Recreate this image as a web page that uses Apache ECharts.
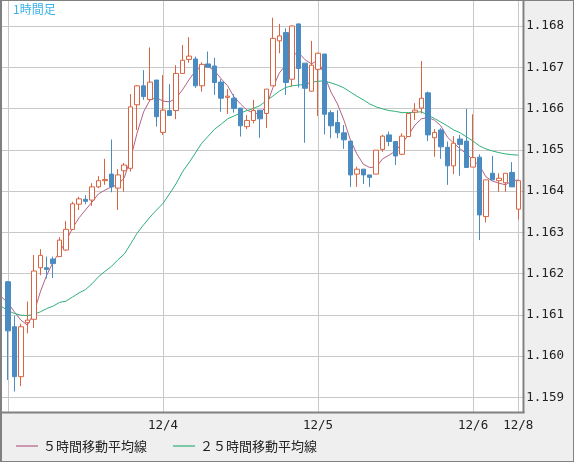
<!DOCTYPE html>
<html><head><meta charset="utf-8">
<script src="https://cdn.jsdelivr.net/npm/echarts@6/dist/echarts.min.js"></script>
<style>html,body{margin:0;padding:0;background:#efefef;overflow:hidden}#c{width:574px;height:462px}</style>
</head><body><div id="c"></div>
<script>
// hourly sessions: [day, first hour, last hour]
const sessions = [['12/2',23,23],['12/3',0,23],['12/4',0,23],['12/5',0,23],['12/6',0,6],['12/8',7,8]];
const gridTicks = ['12/3 0:00','12/4 0:00','12/5 0:00','12/6 0:00','12/8 7:00'];
const tickLabels = ['', '12/4', '12/5', '12/6', '12/8'];
const yTickLabels = ['1.159','1.160','1.161','1.162','1.163','1.164','1.165','1.166','1.167','1.168'];

const opens = [null,
1.16180,1.16071,1.15950,1.16081,1.16089,1.16214,1.16214,1.16235,1.16241,1.16257,
1.16307,1.16368,1.16380,1.16378,1.16410,1.16425,1.16441,1.16407,1.16449,1.16455,
1.16609,1.16655,1.16622,1.16669,1.16542,1.16595,1.16595,1.16685,1.16719,1.16720,
1.16655,1.16708,1.16703,1.16664,1.16627,1.16625,1.16601,1.16556,1.16571,1.16596,
1.16588,1.16655,1.16764,1.16784,1.16671,1.16805,1.16710,1.16642,1.16695,1.16732,
1.16590,1.16566,1.16541,1.16521,1.16441,1.16453,1.16439,1.16441,1.16501,1.16536,
1.16520,1.16489,1.16532,1.16591,1.16601,1.16638,1.16529,1.16548,1.16506,1.16461,
1.16526,1.16521,1.16458,1.16482,1.16338,1.16443,1.16425,1.16420,1.16445,1.16356, null];
const closes = [null,
1.16061,1.15950,1.16071,1.16087,1.16206,1.16244,1.16210,1.16224,1.16281,1.16307,
1.16369,1.16381,1.16375,1.16410,1.16425,1.16428,1.16410,1.16439,1.16463,1.16604,
1.16655,1.16629,1.16664,1.16580,1.16596,1.16583,1.16685,1.16717,1.16727,1.16655,
1.16707,1.16700,1.16663,1.16625,1.16630,1.16600,1.16558,1.16571,1.16595,1.16575,
1.16647,1.16770,1.16776,1.16663,1.16800,1.16697,1.16649,1.16705,1.16734,1.16586,
1.16558,1.16541,1.16524,1.16439,1.16453,1.16439,1.16433,1.16499,1.16533,1.16520,
1.16485,1.16533,1.16588,1.16596,1.16625,1.16536,1.16542,1.16507,1.16461,1.16516,
1.16513,1.16457,1.16481,1.16342,1.16427,1.16427,1.16431,1.16443,1.16410,1.16425, null];
const lows = [null,
1.15942,1.15914,1.15927,1.16055,1.16068,1.16196,1.16188,1.16189,1.16240,1.16255,
1.16305,1.16354,1.16368,1.16364,1.16407,1.16415,1.16397,1.16354,1.16398,1.16447,
1.16548,1.16621,1.16618,1.16556,1.16536,1.16583,1.16574,1.16685,1.16711,1.16650,
1.16641,1.16700,1.16633,1.16592,1.16587,1.16590,1.16532,1.16550,1.16564,1.16529,
1.16553,1.16655,1.16734,1.16633,1.16653,1.16651,1.16517,1.16641,1.16582,1.16537,
1.16528,1.16528,1.16502,1.16410,1.16410,1.16417,1.16410,1.16441,1.16495,1.16509,
1.16463,1.16487,1.16532,1.16572,1.16588,1.16521,1.16483,1.16478,1.16415,1.16441,
1.16437,1.16457,1.16458,1.16281,1.16324,1.16427,1.16398,1.16398,1.16410,1.16331, null];
const highs = [null,
1.16182,1.16097,1.16078,1.16132,1.16245,1.16259,1.16241,1.16241,1.16288,1.16327,
1.16374,1.16386,1.16390,1.16419,1.16436,1.16478,1.16525,1.16453,1.16468,1.16635,
1.16657,1.16693,1.16748,1.16669,1.16681,1.16659,1.16705,1.16754,1.16773,1.16726,
1.16712,1.16738,1.16723,1.16671,1.16647,1.16635,1.16601,1.16584,1.16621,1.16596,
1.16647,1.16820,1.16805,1.16794,1.16802,1.16806,1.16710,1.16764,1.16735,1.16732,
1.16596,1.16596,1.16560,1.16521,1.16459,1.16453,1.16439,1.16499,1.16536,1.16544,
1.16520,1.16540,1.16588,1.16613,1.16715,1.16641,1.16550,1.16552,1.16520,1.16533,
1.16536,1.16599,1.16586,1.16489,1.16427,1.16485,1.16443,1.16443,1.16470,1.16425, null];
const ma5 = [1.16143,
1.16129,1.16107,1.16087,1.16075,1.16104,1.16155,1.16196,1.16228,1.16252,1.16279,
1.16310,1.16335,1.16354,1.16373,1.16393,1.16402,1.16410,1.16415,1.16432,1.16480,
1.16541,1.16592,1.16621,1.16626,1.16618,1.16616,1.16625,1.16645,1.16669,1.16691,
1.16701,1.16702,1.16691,1.16672,1.16655,1.16628,1.16611,1.16596,1.16589,1.16587,
1.16606,1.16650,1.16686,1.16705,1.16730,1.16735,1.16718,1.16708,1.16718,1.16679,
1.16640,1.16611,1.16572,1.16524,1.16490,1.16465,1.16457,1.16458,1.16478,1.16487,
1.16497,1.16516,1.16536,1.16560,1.16575,1.16578,1.16572,1.16558,1.16531,1.16516,
1.16502,1.16490,1.16475,1.16461,1.16434,1.16424,1.16419,1.16415,1.16424,1.16427, null];
const ma25 = [1.16120,
1.16110,1.16103,1.16099,1.16098,1.16101,1.16107,1.16115,1.16121,1.16130,1.16133,
1.16143,1.16153,1.16161,1.16175,1.16192,1.16205,1.16217,1.16233,1.16247,1.16272,
1.16298,1.16318,1.16337,1.16354,1.16370,1.16393,1.16417,1.16446,1.16468,1.16492,
1.16516,1.16533,1.16550,1.16562,1.16575,1.16582,1.16589,1.16595,1.16600,1.16607,
1.16619,1.16630,1.16642,1.16651,1.16655,1.16657,1.16658,1.16664,1.16666,1.16667,
1.16662,1.16657,1.16650,1.16640,1.16630,1.16621,1.16611,1.16604,1.16599,1.16595,
1.16593,1.16590,1.16590,1.16591,1.16592,1.16584,1.16576,1.16567,1.16558,1.16548,
1.16541,1.16531,1.16521,1.16509,1.16502,1.16497,1.16493,1.16490,1.16488,1.16487, null];

const categories = [];
sessions.forEach(([d, h0, h1]) => { for (let h = h0; h <= h1; h++) categories.push(d + ' ' + h + ':00'); });
const labelOf = {};
gridTicks.forEach((t, k) => { labelOf[categories.indexOf(t)] = tickLabels[k]; });

const candles = opens.map((o, i) => o == null ? '-' : [o, closes[i], lows[i], highs[i]]);
const nz = v => v == null ? '-' : v;

const RED = '#d9643f', BLUE = '#4a8cc2', PINK = '#b4608a', GREEN = '#2eb078';
const GRIDC = '#c8c8c8', FRAME = '#808080';
const mono = 'DejaVu Sans Mono';

const chart = echarts.init(document.getElementById('c'), null, {renderer: 'canvas'});
chart.setOption({
  animation: false,
  backgroundColor: '#efefef',
  title: {text: '1時間足', left: 13, top: 3, padding: 0,
    textStyle: {color: '#3db2e8', fontSize: 12, fontWeight: 'normal', fontFamily: 'Noto Sans CJK JP'}},
  legend: {
    left: 16, top: 439.5, padding: 0, itemGap: 26, itemWidth: 22, itemHeight: 14,
    textStyle: {fontSize: 13, color: '#222', fontFamily: 'Noto Sans CJK JP'},
    data: [
      {name: '５時間移動平均線', icon: 'path://M0,6.4L22,6.4L22,7.6L0,7.6Z', itemStyle: {color: PINK}},
      {name: '２５時間移動平均線', icon: 'path://M0,6.4L22,6.4L22,7.6L0,7.6Z', itemStyle: {color: GREEN}}
    ]
  },
  grid: {left: 1.5, right: 49.2, top: 1, bottom: 50, show: true, backgroundColor: '#ffffff', borderWidth: 0},
  xAxis: {
    type: 'category', data: categories, boundaryGap: false,
    axisLine: {show: false}, axisTick: {show: false},
    axisLabel: {interval: (i) => labelOf[i] !== undefined && labelOf[i] !== '', formatter: (v, i) => labelOf[i] || '',
      margin: 7, fontFamily: mono, fontSize: 12.5, color: '#222'},
    splitLine: {show: true, interval: (i) => labelOf[i] !== undefined, lineStyle: {color: GRIDC, width: 1}}
  },
  yAxis: {
    type: 'value', position: 'right', min: 1.158643, max: 1.168606, splitNumber: 10,
    minInterval: 0.001, maxInterval: 0.001,
    axisLine: {show: false}, axisTick: {show: false},
    axisLabel: {showMinLabel: false, showMaxLabel: false, margin: 1.5, fontFamily: mono, fontSize: 12.5, color: '#222',
      formatter: v => { const s = v.toFixed(3); return yTickLabels.indexOf(s) >= 0 ? s : ''; }},
    splitLine: {show: true, showMinLine: false, showMaxLine: false, lineStyle: {color: GRIDC, width: 1}}
  },
  series: [
    {name: '５時間移動平均線', type: 'line', data: ma5.map(nz), symbol: 'none', z: 2,
      color: PINK, lineStyle: {color: PINK, width: 1}},
    {name: '２５時間移動平均線', type: 'line', data: ma25.map(nz), symbol: 'none', z: 2,
      color: GREEN, lineStyle: {color: GREEN, width: 1}},
    {name: 'rate', type: 'candlestick', data: candles, barWidth: 5, z: 3,
      itemStyle: {color: '#ffffff', color0: BLUE, borderColor: RED, borderColor0: BLUE, borderWidth: 1}}
  ],
  graphic: [
    {type: 'line', z: 100, silent: true, shape: {x1: 523.5, y1: 0, x2: 523.5, y2: 413}, style: {stroke: FRAME, lineWidth: 2}},
    {type: 'line', z: 100, silent: true, shape: {x1: 0, y1: 412.5, x2: 524.5, y2: 412.5}, style: {stroke: FRAME, lineWidth: 2}},
    {type: 'line', z: 100, silent: true, shape: {x1: 1, y1: 0, x2: 1, y2: 462}, style: {stroke: FRAME, lineWidth: 2}},
    {type: 'line', z: 100, silent: true, shape: {x1: 0, y1: 0.5, x2: 574, y2: 0.5}, style: {stroke: FRAME, lineWidth: 1}},
    {type: 'line', z: 100, silent: true, shape: {x1: 573.5, y1: 0, x2: 573.5, y2: 462}, style: {stroke: FRAME, lineWidth: 1}},
    {type: 'line', z: 100, silent: true, shape: {x1: 0, y1: 461.5, x2: 574, y2: 461.5}, style: {stroke: FRAME, lineWidth: 1}}
  ]
});
</script></body></html>
